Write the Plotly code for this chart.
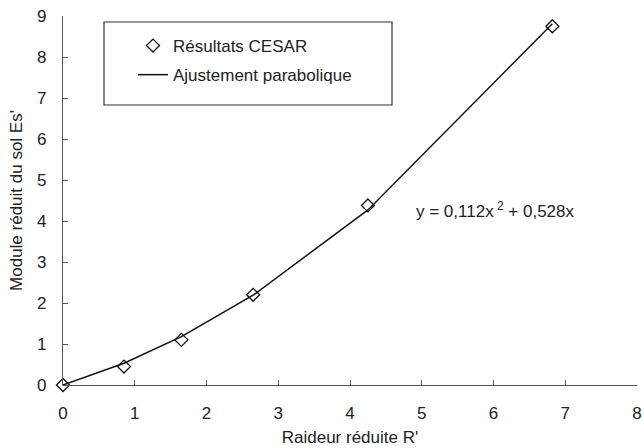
import plotly.graph_objects as go

# Data
r_cesar = [0, 0.85, 1.65, 2.65, 4.25, 6.82]
es_cesar = [0, 0.45, 1.10, 2.20, 4.38, 8.75]

r_fit = [0, 0.85, 1.65, 2.65, 4.25, 6.82]
es_fit = [0, 0.53, 1.18, 2.19, 4.27, 8.81]

x_ticks = [0, 1, 2, 3, 4, 5, 6, 7, 8]
y_ticks = [0, 1, 2, 3, 4, 5, 6, 7, 8, 9]

FONT = "Liberation Sans, Arial, Helvetica, sans-serif"
TXT = "#222222"
AX = "#555555"
FS = 17

# plot area in page pixels (body margin removed via post_script)
L, R, T, B = 63, 637, 16, 385
PW, PH = R - L, B - T
FIG_W, FIG_H = 644, 448

fig = go.Figure()
fig.add_trace(go.Scatter(
    x=r_cesar, y=es_cesar, mode="markers", name="Résultats CESAR",
    legendgroup="a",
    marker=dict(symbol="diamond-open", size=10, color="#111111",
                line=dict(width=1.3, color="#111111")),
    cliponaxis=False,
))
fig.add_trace(go.Scatter(
    x=r_fit, y=es_fit, mode="lines", name="Ajustement parabolique",
    legendgroup="b",
    line=dict(color="#111111", width=1.5),
    cliponaxis=False,
))

axis_common = dict(
    showgrid=False, zeroline=False, showline=True, linecolor=AX, linewidth=1.2,
    ticks="inside", ticklen=5, tickcolor=AX, tickwidth=1, automargin=False,
    ticklabeloverflow="allow",
    tickfont=dict(family=FONT, size=FS, color=TXT),
)

fig.update_xaxes(range=[0, 8], tickvals=x_ticks, ticklabelstandoff=12, **axis_common,
                 title=dict(text="Raideur réduite R'", font=dict(family=FONT, size=FS, color=TXT), standoff=9))
fig.update_yaxes(range=[0, 9], tickvals=y_ticks, ticklabelstandoff=12, **axis_common,
                 title=dict(text="Module réduit du sol Es'", font=dict(family=FONT, size=FS, color=TXT), standoff=10))

fig.add_shape(type="rect", xref="paper", yref="paper",
              x0=(104 - L) / PW, x1=(392 - L) / PW,
              y0=(B - 105) / PH, y1=(B - 22) / PH,
              line=dict(color="#333333", width=1.2), fillcolor="rgba(0,0,0,0)")

fig.add_annotation(text="y = 0,112x<sup> 2</sup> + 0,528x", xref="paper", yref="paper",
                   x=(414 - L) / PW, y=(B - 210) / PH, xanchor="left", yanchor="middle",
                   showarrow=False, font=dict(family=FONT, size=FS, color=TXT))

fig.update_layout(
    width=FIG_W, height=FIG_H,
    margin=dict(l=L, r=FIG_W - R, t=T, b=FIG_H - B),
    paper_bgcolor="white", plot_bgcolor="white",
    showlegend=True,
    legend=dict(x=(133 - L) / PW, y=(B - 28) / PH, xanchor="left", yanchor="top",
                bgcolor="rgba(0,0,0,0)", borderwidth=0, tracegroupgap=4,
                font=dict(family=FONT, size=FS, color=TXT)),
    font=dict(family=FONT, color=TXT),
)

fig.write_html(
    "out.html",
    config={"displayModeBar": False},
    post_script="document.body.style.margin='0';document.body.style.overflow='hidden';",
)
